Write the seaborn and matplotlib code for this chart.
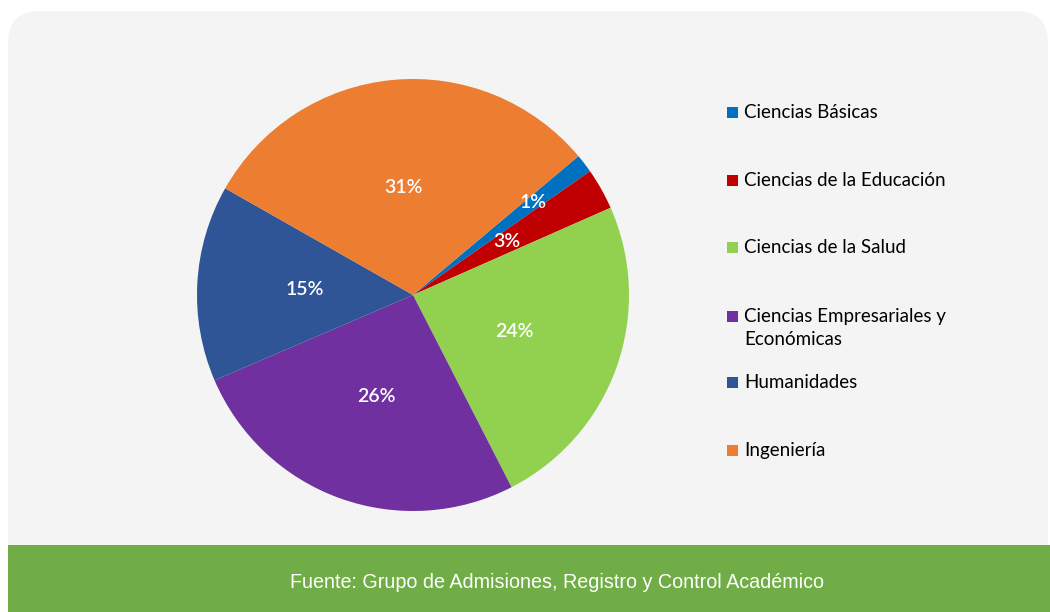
import matplotlib
matplotlib.use("Agg")
import matplotlib.pyplot as plt
import seaborn as sns
from matplotlib.patches import FancyBboxPatch, Rectangle

sns.set_theme(style="white")
plt.rcParams["font.family"] = ["Lato", "DejaVu Sans"]

# data
facultades = ["Ciencias Básicas", "Ciencias de la Educación", "Ciencias de la Salud",
              "Ciencias Empresariales y\nEconómicas", "Humanidades", "Ingeniería"]
porcentajes = [1.4, 3.1, 24.1, 26.1, 14.7, 30.7]
colores = ["#0070c0", "#c00000", "#92d050", "#7030a0", "#2f5597", "#ed7d31"]
fuente = "Fuente: Grupo de Admisiones, Registro y Control Académico"

W, H = 1050, 612
fig = plt.figure(figsize=(W / 100, H / 100), dpi=100)
fig.patch.set_facecolor("white")

# grey rounded panel + green footer (pixel coords)
panel = FancyBboxPatch((8, 40), 1040, H - 11 - 40, boxstyle="round,pad=0,rounding_size=32",
                       transform=None, facecolor="#f4f4f4", edgecolor="none", zorder=-10)
fig.patches.append(panel)
footer = Rectangle((8, 0), W - 8, H - 545, transform=None,
                   facecolor="#70ad47", edgecolor="none", zorder=-9)
fig.patches.append(footer)
fig.text(557 / W, 1 - 583 / H, fuente, color="white", ha="center", va="center",
         fontsize=14.2, family=["Liberation Sans", "DejaVu Sans"])

# pie
cx, cy, r = 413, 295, 216
ax = fig.add_axes([(cx - r) / W, (H - cy - r) / H, 2 * r / W, 2 * r / H], zorder=2)
ax.patch.set_visible(False)
wedges, texts, autotexts = ax.pie(
    porcentajes, colors=colores, startangle=40, counterclock=False,
    autopct="%1.0f%%", pctdistance=0.5, wedgeprops=dict(linewidth=0),
    textprops=dict(color="white", fontsize=14, fontweight="semibold"))
x0, y0 = autotexts[0].get_position()
autotexts[0].set_position((x0 * 1.4, y0 * 1.4))
ax.set_xlim(-1, 1)
ax.set_ylim(-1, 1)
ax.set_aspect("equal")
ax.axis("off")

# legend (manual, Excel-style fixed slots)
leg_y = [112, 180, 247, 316, 382, 450]
for lab, col, y in zip(facultades, colores, leg_y):
    fig.patches.append(Rectangle((727, H - y - 6), 11, 11, transform=None,
                                 facecolor=col, edgecolor="none", zorder=3))
    fig.text(744 / W, 1 - (y - 8) / H, lab, ha="left", va="top", fontsize=13.5,
             color="black", linespacing=1.4)

fig.savefig("out.png", dpi=100)
